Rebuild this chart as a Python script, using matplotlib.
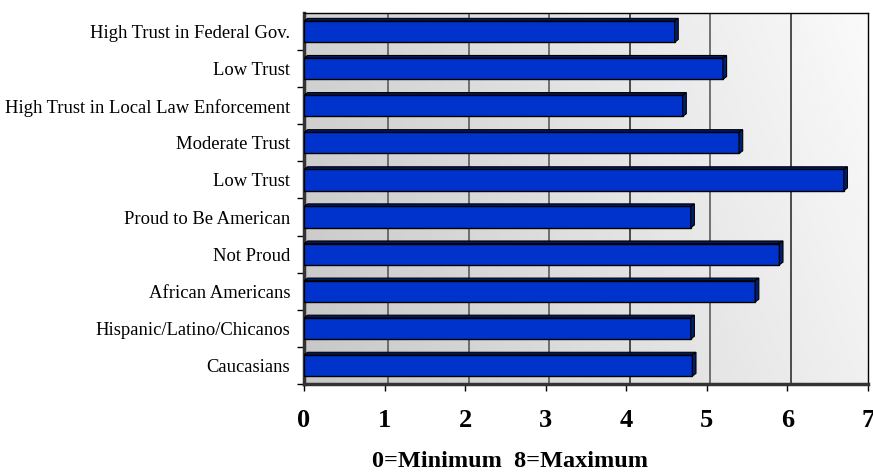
import matplotlib
matplotlib.use('Agg')
import matplotlib.pyplot as plt
import numpy as np
from matplotlib.patches import Polygon

labels = ['High Trust in Federal Gov.', 'Low Trust', 'High Trust in Local Law Enforcement',
          'Moderate Trust', 'Low Trust', 'Proud to Be American', 'Not Proud',
          'African Americans', 'Hispanic/Latino/Chicanos', 'Caucasians']
values = [4.6, 5.2, 4.7, 5.4, 6.7, 4.8, 5.9, 5.6, 4.8, 4.82]
xticks = [0, 1, 2, 3, 4, 5, 6, 7]

plt.rcParams['font.family'] = 'Liberation Serif'

fig = plt.figure(figsize=(8.73, 4.74), dpi=100)
ax = fig.add_axes([304 / 873, 1 - 384 / 474, 564 / 873, 371 / 474])

# gradient back wall
grad = np.linspace(0, 1, 256)
gx, gy = np.meshgrid(grad, grad)
g = 0.78 + 0.2 * (0.8 * gx + 0.2 * (1 - gy))
ax.imshow(g, cmap='gray', vmin=0, vmax=1, extent=[0, 1, 0, 1], transform=ax.transAxes,
          aspect='auto', zorder=0, interpolation='bilinear')

ypos = np.arange(len(labels))
h = 0.57
dx, dy = 0.045, 0.07

for x in xticks[1:-1]:
    ax.axvline(x + dx, color='#202020' if x in (4, 6) else '#505050', lw=1.1, zorder=1)

ax.barh(ypos, values, height=h, color='#0033cc', edgecolor='black', linewidth=1, zorder=3)
for y, v in zip(ypos, values):
    top = y - h / 2
    bot = y + h / 2
    ax.add_patch(Polygon([(0, top), (v, top), (v + dx, top - dy), (dx, top - dy)],
                         closed=True, facecolor='#001a66', edgecolor='black', lw=0.8, zorder=3))
    ax.add_patch(Polygon([(v, top), (v + dx, top - dy), (v + dx, bot - dy), (v, bot)],
                         closed=True, facecolor='#00206e', edgecolor='black', lw=0.8, zorder=3))

ax.set_xlim(0, 7)
ax.set_ylim(len(labels) - 0.5, -0.5)
ax.set_xticks(xticks)
ax.set_xticklabels([str(t) for t in xticks], fontsize=19, fontweight='bold')
ax.set_yticks(ypos + 0.5)
ax.set_yticklabels([])
ax.set_yticks(ypos, minor=True)
ax.set_yticklabels(labels, minor=True, fontsize=13.4)
ax.tick_params(axis='y', which='minor', length=0, pad=10)
ax.tick_params(axis='y', which='major', length=5, width=1, color='black')
ax.tick_params(axis='x', length=5, width=1, pad=13)

for side in ('top', 'right'):
    ax.spines[side].set_linewidth(1)
    ax.spines[side].set_color('black')
for side in ('left', 'bottom'):
    ax.spines[side].set_linewidth(2.5)
    ax.spines[side].set_color('#333333')

ax.set_xlabel('0=Minimum  8=Maximum', fontsize=17.5, fontweight='bold')
ax.xaxis.set_label_coords((510 - 304) / 564, -0.18)

fig.savefig('out.png', dpi=100)
